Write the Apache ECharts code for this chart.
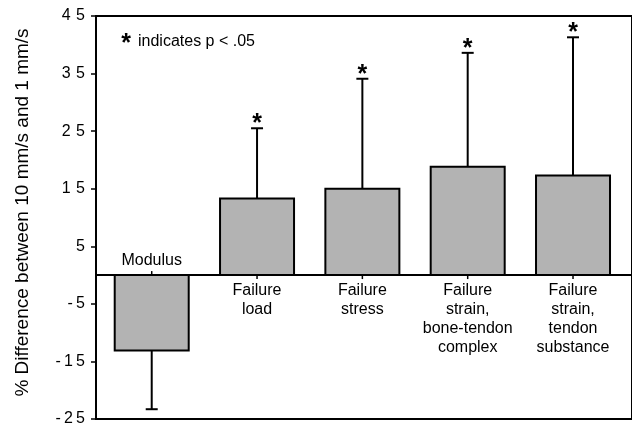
<!DOCTYPE html>
<html>
<head>
<meta charset="utf-8">
<script src="https://cdn.jsdelivr.net/npm/echarts@6/dist/echarts.min.js"></script>
<style>
html,body{margin:0;padding:0;background:#fff;}
#chart{width:632px;height:427px;}
</style>
</head>
<body>
<div id="chart"></div>
<script>
// ---- data ----
const categories = ['Modulus', 'Failure\nload', 'Failure\nstress', 'Failure\nstrain,\nbone-tendon\ncomplex', 'Failure\nstrain,\ntendon\nsubstance'];
const meanDiff = [-13.1, 13.3, 15.0, 18.8, 17.3];
const errorEnd = [-23.3, 25.5, 34.1, 38.6, 41.3];
const significant = [0, 1, 1, 1, 1];
const yTickValues = [-25, -15, -5, 5, 15, 25, 35, 45];
const yAxisTitle = '% Difference between 10 mm/s and 1 mm/s';
const noteText = 'indicates p < .05';

const FONT = '"Liberation Sans", Arial, sans-serif';
const seriesData = categories.map((c, i) => [i, meanDiff[i], errorEnd[i], significant[i]]);

const chart = echarts.init(document.getElementById('chart'), null, {renderer: 'canvas'});

function renderItem(params, api) {
  const i = api.value(0), v = api.value(1), e = api.value(2), sig = api.value(3);
  const p0 = api.coord([i, 0]);
  const p1 = api.coord([i, v]);
  const pe = api.coord([i, e]);
  const bw = 74;
  const children = [];
  const td = v < 0 ? -4 : 4;
  children.push({type: 'line', shape: {x1: p0[0], y1: p0[1], x2: p0[0], y2: p0[1] + td}, style: {stroke: '#000', lineWidth: 1.5}});
  children.push({type: 'line', shape: {x1: p1[0], y1: p1[1], x2: pe[0], y2: pe[1]}, style: {stroke: '#000', lineWidth: 2}});
  children.push({type: 'line', shape: {x1: pe[0] - 6, y1: pe[1], x2: pe[0] + 6, y2: pe[1]}, style: {stroke: '#000', lineWidth: 2}});
  children.push({type: 'rect', shape: {x: p0[0] - bw / 2, y: Math.min(p0[1], p1[1]), width: bw, height: Math.abs(p1[1] - p0[1])},
    style: {fill: '#b3b3b3', stroke: '#000', lineWidth: 2}});
  if (sig) {
    children.push({type: 'text', style: {text: '*', x: pe[0], y: pe[1] - 4, align: 'center', verticalAlign: 'middle',
      font: 'bold 25px ' + FONT, fill: '#000'}});
  }
  children.push({type: 'text', style: {text: categories[i], x: p0[0], y: v < 0 ? p0[1] - 5 : p0[1] + 6,
    align: 'center', verticalAlign: v < 0 ? 'bottom' : 'top', font: '16px ' + FONT, lineHeight: 19, fill: '#000'}});
  return {type: 'group', children: children};
}

const option = {
  animation: false,
  backgroundColor: '#fff',
  grid: {left: 96, right: -3, top: 16, bottom: 5, show: true, borderColor: '#000', borderWidth: 2, backgroundColor: 'transparent'},
  xAxis: {
    type: 'value', min: -0.529, max: 4.56,
    axisLine: {show: true, onZero: true, lineStyle: {color: '#000', width: 2}},
    axisTick: {show: false}, axisLabel: {show: false}, splitLine: {show: false}
  },
  yAxis: {
    type: 'value', min: -25, max: 45, interval: 10,
    name: yAxisTitle, nameLocation: 'middle', nameGap: 64,
    nameTextStyle: {fontSize: 19, color: '#000', fontFamily: FONT, padding: [0, 0, 0, 10]},
    axisLine: {show: true, onZero: false, lineStyle: {color: '#000', width: 2}},
    axisTick: {show: true, inside: false, length: 5, lineStyle: {color: '#000', width: 1.5}},
    axisLabel: {
      show: true, margin: 11, fontSize: 16, color: '#000', fontFamily: FONT,
      formatter: function (val) {
        if (yTickValues.indexOf(val) < 0) return '';
        const s = String(val).split('');
        return s.join(val < 0 ? '\u2009' : '\u2004');
      }
    },
    splitLine: {show: false}
  },
  graphic: [
    {type: 'text', style: {text: '*', x: 126, y: 44, align: 'center', verticalAlign: 'middle', font: 'bold 25px ' + FONT, fill: '#000'}},
    {type: 'text', style: {text: noteText, x: 138, y: 42, align: 'left', verticalAlign: 'middle', font: '16px ' + FONT, fill: '#000'}}
  ],
  series: [{
    type: 'custom',
    renderItem: renderItem,
    data: seriesData,
    encode: {x: 0, y: [1, 2]},
    clip: false,
    z: 3
  }]
};
chart.setOption(option);
</script>
</body>
</html>
